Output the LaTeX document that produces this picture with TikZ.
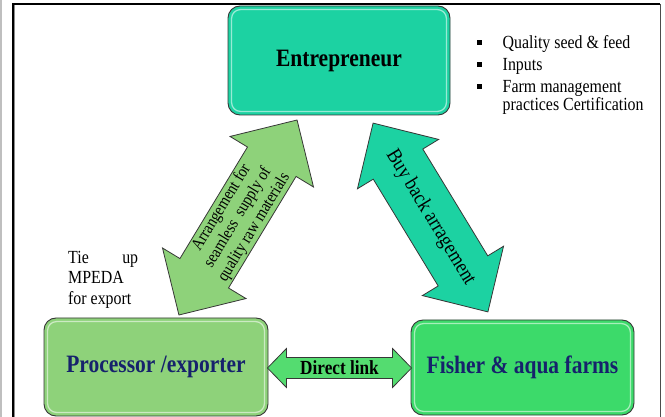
\documentclass[tikz,border=0pt]{standalone}
\usepackage{fontspec}
\setmainfont{Liberation Serif}[FakeStretch=0.86]
\usetikzlibrary{calc}
\definecolor{teal1}{RGB}{28,210,162}
\definecolor{lgreen}{RGB}{142,210,122}
\definecolor{fgreen}{RGB}{60,218,106}
\definecolor{dlgreen}{RGB}{84,220,112}
\definecolor{navy}{RGB}{22,34,108}
\definecolor{edge}{RGB}{55,55,55}
\tikzset{
  box/.style={draw=edge, line width=0.9pt, rounded corners=12pt, inner sep=0pt},
  gloss/.style={draw=white, draw opacity=0.55, line width=1.3pt, rounded corners=9pt},
  blockarrow/.style={draw=edge, line width=0.8pt, line join=miter},
  boxtext/.style={font=\bfseries\fontsize{25}{28}\selectfont},
  plain/.style={font=\fontsize{18.5}{20}\selectfont}
}
\begin{document}
\begin{tikzpicture}[x=1pt,y=-1pt]
\useasboundingbox (0,0) rectangle (665,417);
% frame
\draw[black!25, line width=2pt] (1,0) -- (1,417);
\draw[black, line width=1.6pt] (12.8,417) -- (12.8,4) -- (660,4);
\draw[black!45, line width=1pt] (14.8,417) -- (14.8,5);
\draw[black!70, line width=0.8pt] (660,4) -- (660,417);

% boxes
\node[box, fill=teal1, minimum width=222pt, minimum height=109pt] (ent) at (339,60.5) {};
\draw[gloss] ($(ent.south west)+(4,-4)$) rectangle ($(ent.north east)+(-4,4)$);
\node[boxtext] (entt) at (ent.center) {Entrepreneur};

\node[box, fill=lgreen, minimum width=224pt, minimum height=98pt] (proc) at (156,367) {};
\draw[gloss] ($(proc.south west)+(4,-4)$) rectangle ($(proc.north east)+(-4,4)$);
\node[boxtext, text=navy] (proct) at (proc.center) {Processor /exporter};

\node[box, fill=fgreen, minimum width=223pt, minimum height=95pt] (fish) at (522.5,367.5) {};
\draw[gloss] ($(fish.south west)+(4,-4)$) rectangle ($(fish.north east)+(-4,4)$);
\node[boxtext, text=navy] (fisht) at (fish.center) {Fisher \& aqua farms};

% left diagonal arrow
\begin{scope}[shift={(238,217.5)}, rotate=58.8]
  \draw[blockarrow, fill=lgreen] (-114,0) -- (-65.2,48.8) -- (-65.2,28.4) -- (65.2,28.4) -- (65.2,48.8) -- (114,0)
     -- (65.2,-48.8) -- (65.2,-28.4) -- (-65.2,-28.4) -- (-65.2,-48.8) -- cycle;
  \node[transform shape, align=center, inner sep=0pt, font=\fontsize{17}{19}\selectfont] (lat) at (0,0) {Arrangement for\\seamless\ \ supply of\\quality raw materials};
\end{scope}

% right diagonal arrow
\begin{scope}[shift={(430.5,217.5)}, rotate=-58.7]
  \draw[blockarrow, fill=teal1] (-110.5,0) -- (-62.5,47.5) -- (-62.5,29) -- (62.5,29) -- (62.5,47.5) -- (110.5,0)
     -- (62.5,-47.5) -- (62.5,-29) -- (-62.5,-29) -- (-62.5,-47.5) -- cycle;
  \node[transform shape, font=\fontsize{21}{21}\selectfont] (rat) at (0,0) {Buy back arragement};
\end{scope}

% direct link arrow
\coordinate (dl1) at ($(proc.east)+(-1,1)$);
\coordinate (dl2) at ($(fish.west)+(1,0.5)$);
\draw[blockarrow, fill=dlgreen] (dl1) -- ++(19,-19.5) -- ++(0,9) -- ($(dl2)+(-19,-10.5)$) -- ++(0,-9) -- (dl2)
   -- ++(-19,19.5) -- ++(0,-9) -- ($(dl1)+(19,10.5)$) -- ++(0,9) -- cycle;
\node[font=\bfseries\fontsize{20}{20}\selectfont] (dlt) at ($(dl1)!0.5!(dl2)$) {Direct link};

% bullet list
\node[anchor=north west, inner sep=0pt, plain] (list) at (477,34) {%
\setlength{\tabcolsep}{0pt}\renewcommand{\arraystretch}{1}%
\begin{tabular}{@{}l@{\hspace{21pt}}l@{}}
\rule[3.5pt]{4.5pt}{4.5pt} & Quality seed \& feed\\[2pt]
\rule[3.5pt]{4.5pt}{4.5pt} & Inputs\\[2pt]
\rule[3.5pt]{4.5pt}{4.5pt} & Farm management\\[-2pt]
 & practices Certification
\end{tabular}};

% tie up text
\node[anchor=north west, inner sep=0pt, font=\fontsize{18.5}{20.5}\selectfont] (tie) at (68,251) {%
\parbox{70pt}{Tie\hfill up\\MPEDA\\for export}};
\end{tikzpicture}
\end{document}
